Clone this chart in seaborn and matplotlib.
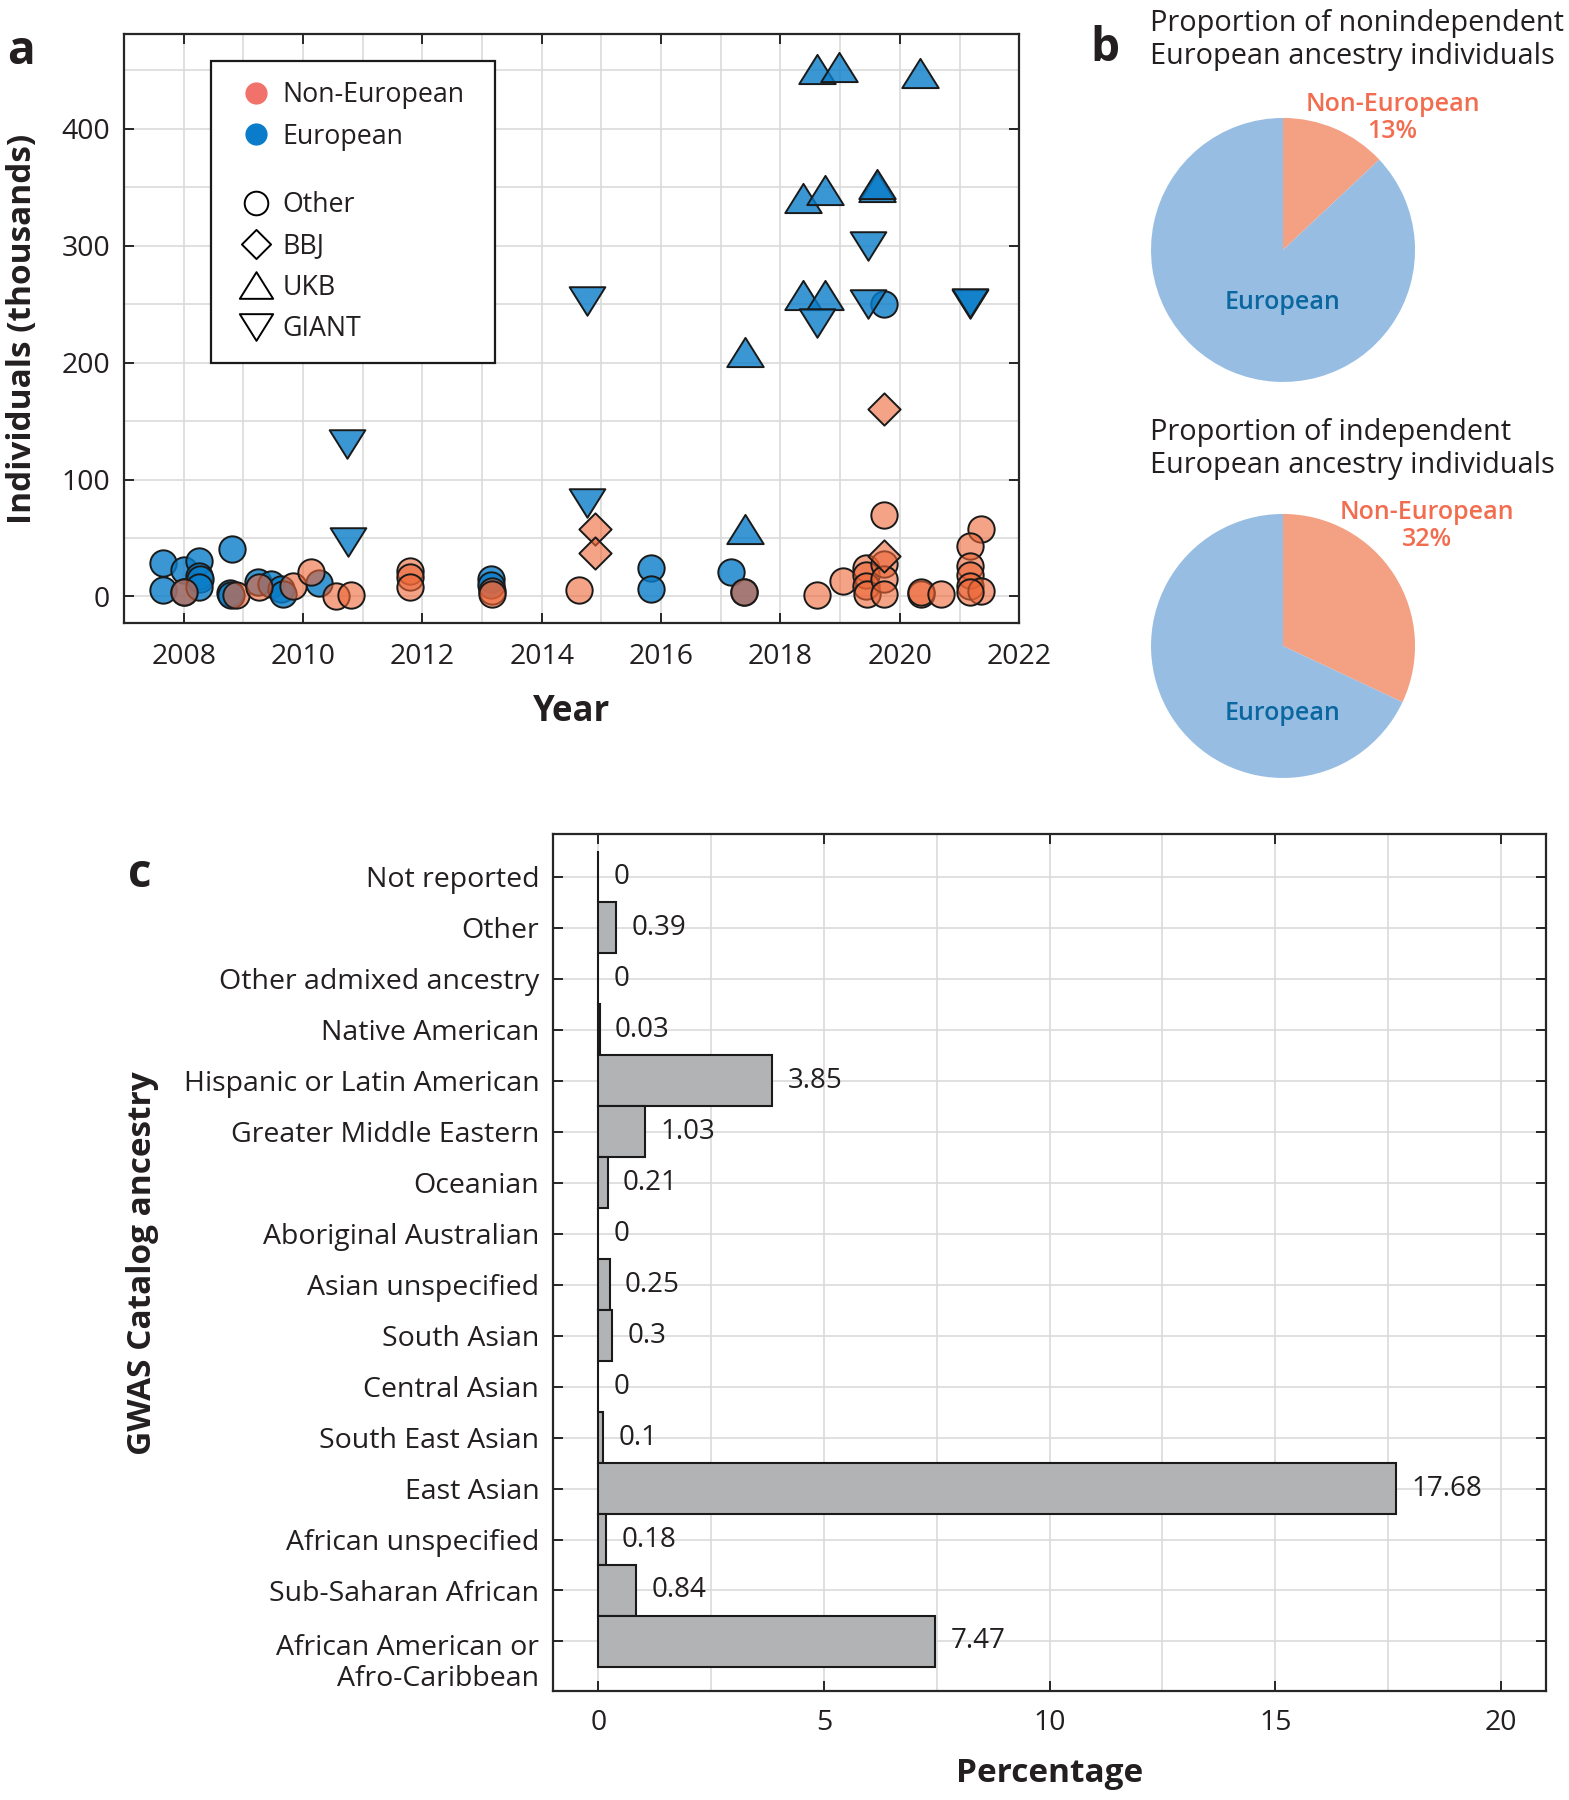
import numpy as np
import pandas as pd
import matplotlib
matplotlib.use("Agg")
import matplotlib.pyplot as plt
from matplotlib.lines import Line2D
from matplotlib.path import Path
from matplotlib.patches import Rectangle
from matplotlib.ticker import MultipleLocator
from matplotlib.transforms import ScaledTranslation
import seaborn as sns

# ---- panel a: GWAS sample sizes (thousands of individuals) by year
eur_other_year = [2007.66, 2007.66, 2008.01, 2008.01, 2008.25, 2008.26, 2008.27, 2008.26,
                  2008.81, 2008.78, 2008.80, 2009.24, 2009.47, 2009.63, 2009.66, 2010.27,
                  2013.15, 2013.15, 2015.83, 2015.83, 2017.17, 2017.39, 2019.73]
eur_other_n = [29, 5.7, 23, 4, 30.6, 17.7, 15, 7.7,
               40.6, 3, 1.5, 12, 10.6, 6.3, 2, 11.4,
               15, 10, 24.5, 6.5, 21, 4, 250]

non_other_year = [2008.01, 2008.88, 2009.27, 2009.83, 2010.14, 2010.56, 2010.80, 2011.79,
                  2011.79, 2011.80, 2013.16, 2013.16, 2014.63, 2017.39, 2018.61, 2019.04,
                  2019.43, 2019.43, 2019.43, 2019.45, 2019.74, 2019.74, 2019.74, 2019.74,
                  2020.36, 2020.36, 2020.69, 2021.36, 2021.17, 2021.17, 2021.17, 2021.17,
                  2021.36, 2021.17]
non_other_n = [4, 1, 7.7, 9, 20.6, 0.6, 1.1, 22,
               17, 7.7, 5, 2, 5.5, 4, 1.6, 12.8,
               24, 18, 9, 2, 70, 28, 15, 2,
               2, 3.5, 2, 58, 43, 26, 18, 9,
               5, 3.5]

bbj_year = [2014.89, 2014.89, 2019.74, 2019.74]
bbj_n = [58, 37, 160, 35]

ukb_year = [2017.41, 2017.41, 2018.61, 2018.98, 2020.33, 2018.38, 2018.75, 2019.61,
            2019.62, 2018.38, 2018.75]
ukb_n = [209, 58, 451, 453, 448, 341, 348, 350, 353, 258, 258]

giant_year = [2010.74, 2010.75, 2014.75, 2014.75, 2018.61, 2019.46, 2019.46, 2021.17, 2021.18]
giant_n = [130, 47, 253, 80, 234, 300, 250, 250, 251]

# ---- panel b: pies
pie_groups = ["Non-European", "European"]
pie_nonindep = [13, 87]
pie_indep = [32, 68]

# ---- panel c: GWAS Catalog ancestry percentages
ancestries = ["Not reported", "Other", "Other admixed ancestry", "Native American",
              "Hispanic or Latin American", "Greater Middle Eastern", "Oceanian",
              "Aboriginal Australian", "Asian unspecified", "South Asian", "Central Asian",
              "South East Asian", "East Asian", "African unspecified", "Sub-Saharan African",
              "African American or\nAfro-Caribbean"]
percentages = [0, 0.39, 0, 0.03, 3.85, 1.03, 0.21, 0, 0.25, 0.3, 0, 0.1, 17.68, 0.18, 0.84, 7.47]


def frame(year, n, ancestry, cohort):
    return pd.DataFrame({"year": year, "n": n, "ancestry": ancestry, "cohort": cohort})


df = pd.concat([
    frame(eur_other_year, eur_other_n, "European", "Other"),
    frame(ukb_year, ukb_n, "European", "UKB"),
    frame(giant_year, giant_n, "European", "GIANT"),
    frame(non_other_year, non_other_n, "Non-European", "Other"),
    frame(bbj_year, bbj_n, "Non-European", "BBJ"),
], ignore_index=True)

# colours
EUR = (0.04, 0.49, 0.79)
NON = (0.93, 0.40, 0.21)
TXT = "#231F20"
GRID = "#DADADA"

sns.set_theme(style="ticks")
plt.rcParams["font.family"] = ["Open Sans", "DejaVu Sans"]
plt.rcParams.update({
    "text.color": TXT, "axes.labelcolor": TXT,
    "xtick.color": "#262626", "ytick.color": "#262626",
    "xtick.labelcolor": TXT, "ytick.labelcolor": TXT,
    "axes.edgecolor": "#262626", "axes.linewidth": 1.6,
    "xtick.direction": "in", "ytick.direction": "in",
    "xtick.major.size": 7, "ytick.major.size": 7,
    "xtick.major.width": 1.4, "ytick.major.width": 1.4,
    "xtick.minor.size": 0, "ytick.minor.size": 0,
})


def closed(verts):
    return Path(verts + [verts[0]], closed=True)


markers = {
    "Other": "o",
    "BBJ": closed([(0, 1), (1, 0), (0, -1), (-1, 0)]),
    "UKB": closed([(0, 0.8), (-1, -0.8), (1, -0.8)]),
    "GIANT": closed([(0, -0.8), (-1, 0.8), (1, 0.8)]),
}
sizes = {"Other": 360, "BBJ": 540, "UKB": 690, "GIANT": 660}

fig = plt.figure(figsize=(15.69, 18), dpi=100)

# ================= panel a =================
ax_a = fig.add_axes([0.079, 0.6537, 0.5706, 0.3273])
ax_a.set_axisbelow(True)
for anc, rgb, alpha in [("European", EUR, 0.8), ("Non-European", NON, 0.6)]:
    for coh in ["Other", "BBJ", "UKB", "GIANT"]:
        sub = df[(df["ancestry"] == anc) & (df["cohort"] == coh)]
        if sub.empty:
            continue
        sns.scatterplot(data=sub, x="year", y="n", ax=ax_a, color=(*rgb, alpha),
                        marker=markers[coh], s=sizes[coh], edgecolor="#1a1a1a",
                        linewidth=1.4, legend=False, zorder=3)

ax_a.set_xlim(2007, 2022)
ax_a.set_ylim(-23, 481)
ax_a.xaxis.set_major_locator(MultipleLocator(2))
ax_a.xaxis.set_minor_locator(MultipleLocator(1))
ax_a.yaxis.set_major_locator(MultipleLocator(100))
ax_a.yaxis.set_minor_locator(MultipleLocator(50))
ax_a.grid(which="both", color=GRID, linewidth=1.2)
ax_a.tick_params(top=True, right=True, labelsize=20.5)
ax_a.tick_params(axis="x", pad=14)
ax_a.tick_params(axis="y", pad=10)
ax_a.set_xlabel("Year", fontsize=25, fontweight="bold")
ax_a.set_ylabel("Individuals (thousands)", fontsize=24, fontweight="bold")
ax_a.xaxis.set_label_coords(0.5, -0.12)
ax_a.yaxis.set_label_coords(-0.095, 0.5)

# legend: white box with colour entries and cohort marker entries
ax_a.add_patch(Rectangle((0.0974, 0.4425), 0.3166, 0.5125, transform=ax_a.transAxes,
                         facecolor="white", edgecolor="#1a1a1a", linewidth=1.6, zorder=4))
col_handles = [
    Line2D([], [], ls="", marker="o", markersize=16, markerfacecolor="#F0726A",
           markeredgecolor="none"),
    Line2D([], [], ls="", marker="o", markersize=16, markerfacecolor="#0A7CCA",
           markeredgecolor="none"),
]
shape_handles = [
    Line2D([], [], ls="", marker=markers[c], markersize=ms, markerfacecolor="none",
           markeredgecolor="black", markeredgewidth=1.4)
    for c, ms in [("Other", 17), ("BBJ", 21), ("UKB", 24), ("GIANT", 24)]
]
leg_kw = dict(loc="upper left", frameon=False, borderpad=0, borderaxespad=0,
              handlelength=1.2, handletextpad=0.4, labelspacing=0.5, fontsize=19.3)
leg1 = ax_a.legend(col_handles, ["Non-European", "European"],
                   bbox_to_anchor=(0.129, 0.920), **leg_kw)
leg1.set_zorder(5)
ax_a.add_artist(leg1)
leg2 = ax_a.legend(shape_handles, ["Other", "BBJ", "UKB", "GIANT"],
                   bbox_to_anchor=(0.129, 0.734), **leg_kw)
leg2.set_zorder(5)

# ================= panel b =================
pie_colors = ["#F4A083", "#97BDE3"]
pie_w, pie_h = 264 / 1569, 264 / 1800
for vals, bottom, eu_dy, non_xy in [(pie_nonindep, 0.7878, -0.40, (0.83, 1.00)),
                                    (pie_indep, 0.5678, -0.51, (1.09, 0.91))]:
    axp = fig.add_axes([0.7336, bottom, pie_w, pie_h])
    axp.pie(vals, colors=pie_colors, startangle=90, counterclock=False,
            wedgeprops=dict(linewidth=0))
    axp.set_xlim(-1, 1)
    axp.set_ylim(-1, 1)
    axp.text(0, eu_dy, pie_groups[1], ha="center", va="center", fontsize=18,
             fontweight="semibold", color="#0B67A0")
    axp.text(non_xy[0], non_xy[1], f"{pie_groups[0]}\n{vals[0]}%", ha="center",
             va="center", fontsize=18, fontweight="semibold", color="#F26D4F",
             linespacing=1.1)

fig.text(0.733, 0.995, "Proportion of nonindependent\nEuropean ancestry individuals",
         ha="left", va="top", fontsize=20.8, linespacing=1.2)
fig.text(0.733, 0.768, "Proportion of independent\nEuropean ancestry individuals",
         ha="left", va="top", fontsize=20.8, linespacing=1.2)

# ================= panel c =================
ax_c = fig.add_axes([0.3526, 0.0606, 0.6328, 0.4758])
ax_c.set_axisbelow(True)
bar_df = pd.DataFrame({"ancestry": ancestries, "pct": percentages})
sns.barplot(data=bar_df, x="pct", y="ancestry", ax=ax_c, orient="h", width=1.0,
            color="#B2B3B5", saturation=1, edgecolor="#1a1a1a", linewidth=1.5)
ax_c.bar_label(ax_c.containers[0], labels=[f"{v:g}" for v in percentages],
               padding=11, fontsize=20, color=TXT)
ax_c.set_xlim(-1, 21)
ax_c.set_ylim(15.97, -0.83)
ax_c.xaxis.set_major_locator(MultipleLocator(5))
ax_c.xaxis.set_minor_locator(MultipleLocator(2.5))
ax_c.grid(which="both", color=GRID, linewidth=1.2)
ax_c.tick_params(top=True, right=True, labelsize=20.5)
ax_c.tick_params(axis="x", pad=13)
ax_c.tick_params(axis="y", pad=10, labelsize=20.5)
ax_c.set_xlabel("Percentage", fontsize=24, fontweight="bold")
ax_c.set_ylabel("GWAS Catalog ancestry", fontsize=24, fontweight="bold")
ax_c.xaxis.set_label_coords(0.5, -0.077)
ax_c.yaxis.set_label_coords(-0.397, 0.5)
for lab in ax_c.get_yticklabels():
    lab.set_multialignment("right")
    if "\n" in lab.get_text():
        # first line sits on the tick, second line hangs below
        lab.set_linespacing(1.15)
        lab.set_transform(lab.get_transform() +
                          ScaledTranslation(0, -12 / 72, fig.dpi_scale_trans))
for side in ["top", "right"]:
    ax_a.spines[side].set_visible(True)
    ax_c.spines[side].set_visible(True)

# panel letters
for letter, x, y in [("a", 18, 45), ("b", 963, 42), ("c", 122, 762)]:
    fig.text(x / 1367, 1 - y / 1568, letter, ha="center", va="center",
             fontsize=33, fontweight="bold")

fig.savefig("out.png", dpi=100)
